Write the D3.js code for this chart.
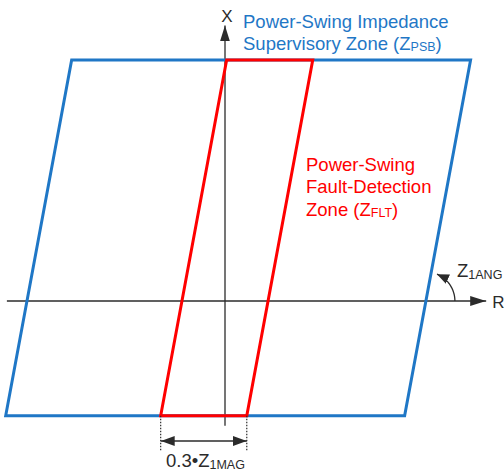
<!DOCTYPE html>
<html>
<head>
<meta charset="utf-8">
<script src="https://cdn.jsdelivr.net/npm/d3@7"></script>
<style>
  html, body { margin: 0; padding: 0; background: #fff; }
  svg { display: block; font-family: "Liberation Sans", Arial, sans-serif; }
</style>
</head>
<body>
<svg id="chart" width="504" height="475"></svg>
<script>
// Impedance-plane characteristics (ohms, degrees)
const z1Mag = 10;              // positive-sequence line impedance magnitude
const z1Ang = 79.5;            // line impedance angle
const fltFactor = 0.3;         // fault-detection zone width = 0.3 * Z1MAG
const psbReachR = [-6.9, 7.0]; // supervisory zone resistive reach at X = 0
const zoneReachX = [-4.0, 8.4];// bottom / top reactance reach
const fltReachR = [-fltFactor * z1Mag / 2, fltFactor * z1Mag / 2];

const axisLabels = { r: "R", x: "X" };
const psbLabel = ["Power-Swing Impedance", "Supervisory Zone (Z", "PSB", ")"];
const fltLabel = ["Power-Swing", "Fault-Detection", "Zone (Z", "FLT", ")"];

const blue = "#1f77c6";
const red = "#ff0000";
const ink = "#2b2b2b";
const fs = 18.5, fsSub = 12.5;

const svg = d3.select("#chart");

// one unit of impedance spans the same pixels on both axes
const R = d3.scaleLinear().domain([-8, 10]).range([-4.6, 512]);
const X = d3.scaleLinear().domain([-6, 10]).range([473.2, 14]);

const cot = 1 / Math.tan(z1Ang * Math.PI / 180);
// quadrilateral whose left/right sides are tilted at the line angle
function zone(rr, xx) {
  return [
    [rr[0] + xx[1] * cot, xx[1]],
    [rr[1] + xx[1] * cot, xx[1]],
    [rr[1] + xx[0] * cot, xx[0]],
    [rr[0] + xx[0] * cot, xx[0]]
  ];
}
const line = d3.line().x(d => R(d[0])).y(d => X(d[1])).curve(d3.curveLinearClosed);

const defs = svg.append("defs");
defs.append("marker")
  .attr("id", "axisHead").attr("viewBox", "0 0 16 12")
  .attr("refX", 16).attr("refY", 6)
  .attr("markerWidth", 16).attr("markerHeight", 12)
  .attr("markerUnits", "userSpaceOnUse").attr("orient", "auto")
  .append("path").attr("d", "M0,1 L16,6 L0,11 Z").attr("fill", ink);
defs.append("marker")
  .attr("id", "dimEnd").attr("viewBox", "0 0 14 10")
  .attr("refX", 14).attr("refY", 5)
  .attr("markerWidth", 14).attr("markerHeight", 10)
  .attr("markerUnits", "userSpaceOnUse").attr("orient", "auto")
  .append("path").attr("d", "M0,0 L14,5 L0,10 Z").attr("fill", ink);
defs.append("marker")
  .attr("id", "dimStart").attr("viewBox", "0 0 14 10")
  .attr("refX", 0).attr("refY", 5)
  .attr("markerWidth", 14).attr("markerHeight", 10)
  .attr("markerUnits", "userSpaceOnUse").attr("orient", "auto")
  .append("path").attr("d", "M14,0 L0,5 L14,10 Z").attr("fill", ink);
defs.append("marker")
  .attr("id", "arcHead").attr("viewBox", "0 0 12 10")
  .attr("refX", 12).attr("refY", 5)
  .attr("markerWidth", 12).attr("markerHeight", 10)
  .attr("markerUnits", "userSpaceOnUse").attr("orient", "auto")
  .append("path").attr("d", "M0,0 L12,5 L0,10 Z").attr("fill", ink);

// axes
svg.append("line")
  .attr("x1", R(-7.6)).attr("x2", R(9.1))
  .attr("y1", X(0)).attr("y2", X(0))
  .attr("stroke", ink).attr("stroke-width", 1.3)
  .attr("marker-end", "url(#axisHead)");
svg.append("line")
  .attr("x1", R(0)).attr("x2", R(0))
  .attr("y1", X(-4.35)).attr("y2", X(9.6))
  .attr("stroke", ink).attr("stroke-width", 1.3)
  .attr("marker-end", "url(#axisHead)");

// zones
const psb = zone(psbReachR, zoneReachX);
const flt = zone(fltReachR, zoneReachX);
svg.append("path").attr("d", line(psb))
  .attr("fill", "none").attr("stroke", blue).attr("stroke-width", 3)
  .attr("stroke-linejoin", "miter");
svg.append("path").attr("d", line(flt))
  .attr("fill", "none").attr("stroke", red).attr("stroke-width", 3)
  .attr("stroke-linejoin", "miter");

// axis labels
svg.append("text").attr("x", R(0) + 2).attr("y", X(9.6) - 3)
  .attr("text-anchor", "middle").attr("font-size", 17).attr("fill", ink)
  .text(axisLabels.x);
svg.append("text").attr("x", R(9.1) + 6).attr("y", X(0) + 7)
  .attr("font-size", 17).attr("fill", ink)
  .text(axisLabels.r);

// zone labels
const t1 = svg.append("text").attr("fill", blue).attr("font-size", fs);
t1.append("tspan").attr("x", 243).attr("y", 28).text(psbLabel[0]);
t1.append("tspan").attr("x", 243).attr("y", 50).text(psbLabel[1]);
t1.append("tspan").attr("font-size", fsSub).attr("dy", 1).text(psbLabel[2]);
t1.append("tspan").attr("dy", -1).text(psbLabel[3]);

const t2 = svg.append("text").attr("fill", red).attr("font-size", fs);
t2.append("tspan").attr("x", 306).attr("y", 171).text(fltLabel[0]);
t2.append("tspan").attr("x", 306).attr("y", 193).text(fltLabel[1]);
t2.append("tspan").attr("x", 306).attr("y", 215.5).text(fltLabel[2]);
t2.append("tspan").attr("font-size", fsSub).attr("dy", 1).text(fltLabel[3]);
t2.append("tspan").attr("dy", -1).text(fltLabel[4]);

// line angle arc at the right blinder / R-axis crossing
const cx = R(psbReachR[1]), cy = X(0), rad = 29;
const a0 = 0, a1 = (z1Ang - 12) * Math.PI / 180;
const arcPts = d3.range(0, 21).map(i => {
  const a = a0 + (a1 - a0) * i / 20;
  return [cx + rad * Math.cos(a), cy - rad * Math.sin(a)];
});
svg.append("path").attr("d", d3.line()(arcPts))
  .attr("fill", "none").attr("stroke", ink).attr("stroke-width", 1.3)
  .attr("marker-end", "url(#arcHead)");
const ang = svg.append("text").attr("x", 457).attr("y", 276.5)
  .attr("font-size", fs).attr("fill", ink);
ang.append("tspan").text("Z");
ang.append("tspan").attr("font-size", fsSub).attr("dy", 2).text("1ANG");

// 0.3*Z1MAG dimension
const bl = flt[3], br = flt[2];
[bl, br].forEach(p => {
  svg.append("line")
    .attr("x1", R(p[0])).attr("x2", R(p[0]))
    .attr("y1", X(p[1])).attr("y2", X(p[1]) + 36)
    .attr("stroke", ink).attr("stroke-width", 1.2)
    .attr("stroke-dasharray", "1.5,1.5");
});
svg.append("line")
  .attr("x1", R(bl[0])).attr("x2", R(br[0]))
  .attr("y1", 441).attr("y2", 441)
  .attr("stroke", ink).attr("stroke-width", 1.3)
  .attr("marker-start", "url(#dimStart)")
  .attr("marker-end", "url(#dimEnd)");
const dim = svg.append("text").attr("x", 166).attr("y", 467)
  .attr("font-size", fs).attr("fill", ink);
dim.append("tspan").text(fltFactor + "\u2022Z");
dim.append("tspan").attr("font-size", fsSub).attr("dy", 2).text("1MAG");
</script>
</body>
</html>
